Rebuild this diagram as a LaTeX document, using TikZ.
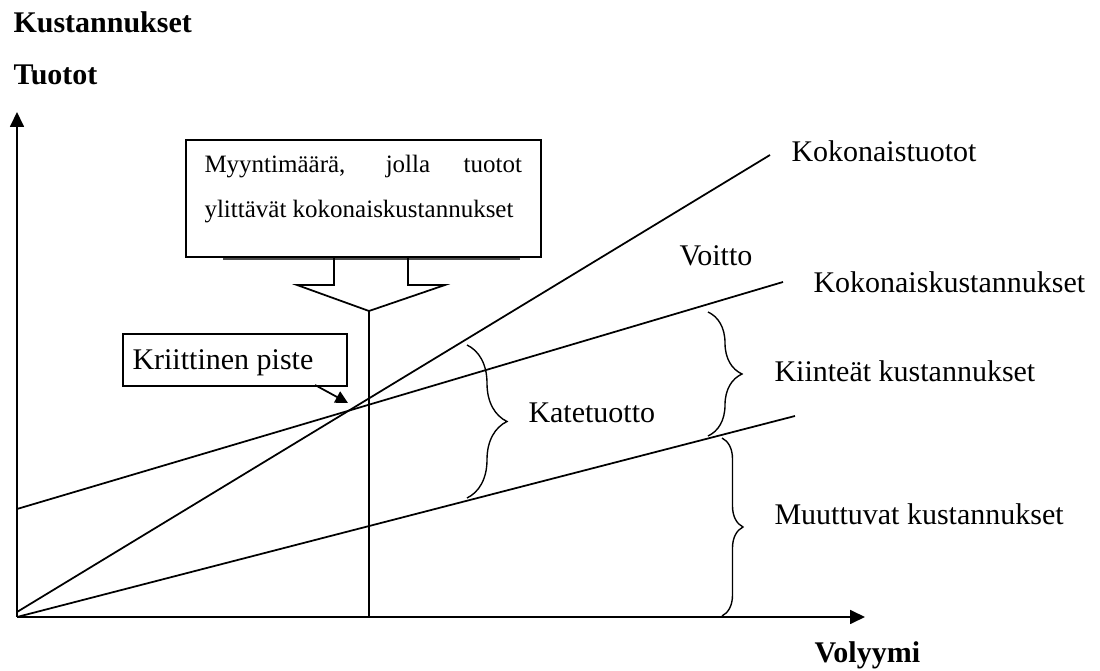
\documentclass[tikz,border=0pt]{standalone}
\usepackage{fontspec}
\setmainfont{Liberation Serif}
\usetikzlibrary{decorations.pathreplacing,arrows.meta}
\begin{document}
\begin{tikzpicture}[x=0.4pt,y=-0.4pt,
  lbl/.style={anchor=base west,inner sep=0,font=\fontsize{12}{14}\selectfont},
  blbl/.style={anchor=base west,inner sep=0,font=\fontsize{12}{14}\selectfont\bfseries},
  small/.style={anchor=base west,inner sep=0,font=\fontsize{10}{18}\selectfont},
  ln/.style={line width=0.7pt,line join=miter},
  axis/.style={ln,-{Triangle[length=6pt,width=5.6pt]}},
  brc/.style={line width=0.55pt,decorate,decoration={brace,amplitude=#1}}
]
\useasboundingbox (0,0) rectangle (1100,671);
% axes
\coordinate (O) at (17,617);
\coordinate (ytip) at (17,112);
\coordinate (xtip) at (865,617);
\draw[axis] (O) -- (ytip);
\draw[axis] (O) -- (xtip);
% lines
\coordinate (tr0) at (17,612);
\coordinate (tr1) at (770,155);
\coordinate (tc0) at (17,509);
\coordinate (tc1) at (783,282);
\coordinate (vc0) at (17,617);
\coordinate (vc1) at (795,416);
\draw[ln] (tr0) -- (tr1);
\draw[ln] (tc0) -- (tc1);
\draw[ln] (vc0) -- (vc1);
% callout box
\fill[black!70] (223,257) rectangle (520,260);
\node (callout) [draw,ln,fill=white,anchor=north west,inner sep=0,minimum width=142pt,minimum height=47pt] at (185,139) {};
\node (c1) [small] at (204,173) {\makebox[127pt][s]{Myyntimäärä, jolla tuotot}};
\node (c2) [small] at (204,218) {ylittävät kokonaiskustannukset};
\coordinate (ctip) at (369,311);
\coordinate (vbot) at (369,617);
\draw[ln] (334,257) -- (334,285) -- (297,285) -- (ctip) -- (445,285) -- (408,285) -- (408,257);
\draw[ln] (ctip) -- (vbot);
% critical point
\node (kp) [draw,ln,fill=white,anchor=north east,inner sep=0,minimum width=89.6pt,minimum height=20.8pt] at (348,333) {};
\node (kpt) [lbl] at (132,370) {Kriittinen piste};
\coordinate (kpa) at (315,385);
\coordinate (bep) at (348,403);
\draw[ln,-{Triangle[length=5pt,width=5pt]}] (kpa) -- (bep);
% braces
\draw[brc=16pt] (467,345) -- (467,498);
\draw[brc=13.6pt] (708,312) -- (708,436);
\draw[brc=8.4pt] (722,438) -- (722,616);
% labels
\node (kust) [blbl] at (13,33) {Kustannukset};
\node (tuot) [blbl] at (13,85) {Tuotot};
\node (vol) [blbl] at (814,662) {Volyymi};
\node (ktuot) [lbl] at (791,162) {Kokonaistuotot};
\node (voitto) [lbl] at (679,266) {Voitto};
\node (kkust) [lbl] at (813,293) {Kokonaiskustannukset};
\node (kiint) [lbl] at (774,382) {Kiinteät kustannukset};
\node (muut) [lbl] at (774,525) {Muuttuvat kustannukset};
\node (kate) [lbl] at (528,423) {Katetuotto};
\end{tikzpicture}
\end{document}
